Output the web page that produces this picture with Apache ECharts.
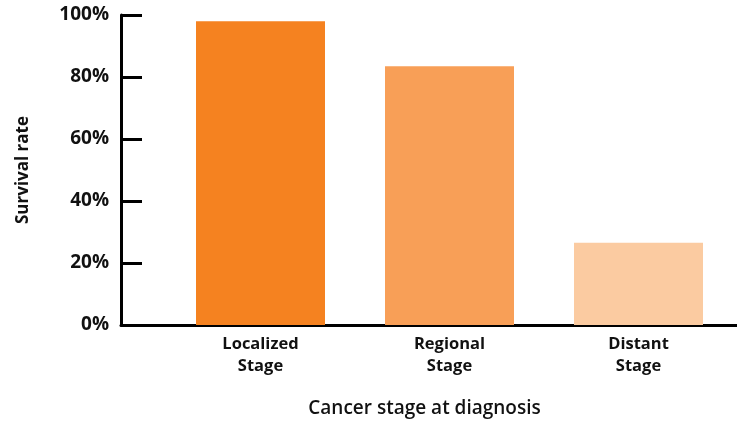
<!DOCTYPE html>
<html>
<head>
<meta charset="utf-8">
<script src="https://cdn.jsdelivr.net/npm/echarts@6/dist/echarts.min.js"></script>
<style>
html,body{margin:0;padding:0;background:#fff;}
#c{width:737px;height:425px;}
</style>
</head>
<body>
<div id="c"></div>
<script>
const categories = ['Localized\nStage', 'Regional\nStage', 'Distant\nStage'];
const survival = [98, 83.5, 26.5];
const barColors = ['#F58220', '#F89F57', '#FBCBA1'];
const yTicks = [0, 20, 40, 60, 80, 100];

const font = '"Open Sans", "Noto Sans", sans-serif';
const chart = echarts.init(document.getElementById('c'));
chart.setOption({
  animation: false,
  backgroundColor: '#fff',
  textStyle: { fontFamily: font },
  grid: [
    { left: 121, right: 0, top: 15, bottom: 100, outerBoundsMode: 'none', containLabel: false },
    { left: 166, right: 4, top: 15, bottom: 100, outerBoundsMode: 'none', containLabel: false }
  ],
  xAxis: [
    {
      gridIndex: 0, type: 'value', min: 0, max: 1,
      axisLine: { show: true, lineStyle: { color: '#000', width: 3 } },
      axisTick: { show: false }, axisLabel: { show: false }, splitLine: { show: false },
      name: 'Cancer stage at diagnosis', nameLocation: 'middle', nameGap: 74,
      nameTextStyle: { fontSize: 19, fontWeight: 600, color: '#111', fontFamily: font, padding: [0, 9, 0, 0] }
    },
    {
      gridIndex: 1, type: 'category', data: categories,
      axisLine: { show: false }, axisTick: { show: false },
      axisLabel: { fontSize: 16.5, fontWeight: 'bold', color: '#111', lineHeight: 22, margin: 8, fontFamily: font }
    }
  ],
  yAxis: [
    {
      gridIndex: 0, type: 'value', min: yTicks[0], max: yTicks[yTicks.length - 1], interval: 20,
      axisLine: { show: true, lineStyle: { color: '#000', width: 3 } },
      axisTick: { show: true, inside: true, length: 21, lineStyle: { color: '#000', width: 3 } },
      splitLine: { show: false },
      axisLabel: { formatter: '{value}%', fontSize: 19, fontWeight: 'bold', color: '#111', margin: 12, fontFamily: font },
      name: 'Survival rate', nameLocation: 'middle', nameGap: 89, nameRotate: 90,
      nameTextStyle: { fontSize: 17, fontWeight: 'bold', color: '#111', fontFamily: font }
    },
    {
      gridIndex: 1, type: 'value', min: 0, max: 100, interval: 20, show: false
    }
  ],
  series: [{
    type: 'bar', xAxisIndex: 1, yAxisIndex: 1,
    data: survival.map((v, i) => ({ value: v, itemStyle: { color: barColors[i] } })),
    barWidth: 129, z: 1
  }]
});
</script>
</body>
</html>
